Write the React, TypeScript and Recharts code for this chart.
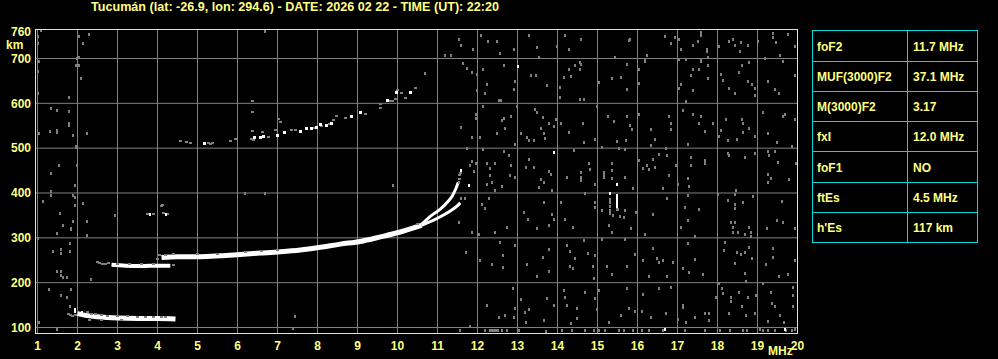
import React from "react";
import { CartesianGrid, ComposedChart, Line, Scatter, XAxis, YAxis } from "recharts";

const title = "Tucumán (lat: -26.9, lon: 294.6) - DATE: 2026 02 22 - TIME (UT): 22:20";

const freqTicks = [1, 2, 3, 4, 5, 6, 7, 8, 9, 10, 11, 12, 13, 14, 15, 16, 17, 18, 19, 20];
const heightTicks = [100, 200, 300, 400, 500, 600, 700, 760];
const gridHeights = [100, 200, 300, 400, 500, 600, 700];

const tableLabels = ["foF2", "MUF(3000)F2", "M(3000)F2", "fxI", "foF1", "ftEs", "h'Es"];
const tableValues = ["11.7 MHz", "37.1 MHz", "3.17", "12.0 MHz", "NO", "4.5 MHz", "117 km"];

// traces [MHz, km]
const esTrace = [[2.0, 131], [2.2, 127], [2.5, 124], [3.0, 121], [3.5, 120], [4.0, 120], [4.45, 119]];
const fLowTrace = [[2.85, 240], [3.2, 238], [3.6, 237], [4.0, 238], [4.32, 238]];
const fTrace = [
  [4.1, 256], [4.5, 258], [5.07, 258], [5.57, 260], [6.07, 263], [6.57, 266], [7.07, 269], [7.57, 273],
  [8.07, 279], [8.57, 286], [9.07, 292], [9.57, 302], [10.07, 313], [10.4, 322], [10.6, 328],
];
const fUpper = [[10.6, 330], [10.82, 348], [11.07, 364], [11.25, 380], [11.38, 395], [11.46, 410], [11.52, 424]];
const fLower = [[10.6, 328], [10.82, 336], [11.07, 347], [11.32, 360], [11.48, 370], [11.57, 378]];

const echoWhite = [
  [5.17, 511], [6.42, 523], [6.57, 523], [6.65, 525], [7.0, 529], [7.17, 534], [7.57, 538], [7.72, 543],
  [7.86, 544], [7.98, 547], [8.08, 553], [8.22, 551], [8.36, 556], [8.86, 571], [9.08, 579], [9.75, 606],
  [9.98, 625], [10.33, 624],
];
const echoGray = [
  [4.58, 515], [4.73, 514], [4.83, 511], [5.28, 512], [5.33, 510], [5.38, 512], [5.83, 517], [5.94, 520],
  [6.38, 606], [6.38, 581], [6.38, 538], [6.36, 521], [6.4, 519], [6.63, 536], [6.78, 525], [6.94, 540],
  [7.02, 566], [7.08, 559], [7.36, 541], [7.45, 540], [7.9, 546], [8.1, 549], [8.3, 553], [8.48, 571],
  [8.4, 562], [8.69, 568], [9.19, 577], [9.58, 598], [9.58, 590], [9.8, 605], [9.88, 606], [9.95, 609],
  [10.0, 630], [10.1, 622], [10.2, 613], [10.44, 634],
];

const traceGray = [
  [1.78, 130], [1.83, 128], [1.88, 125], [1.95, 127], [2.25, 134], [2.35, 131], [2.45, 130], [2.6, 127],
  [2.75, 126], [3.0, 125], [3.25, 125], [3.5, 124], [3.7, 124], [3.9, 124], [4.1, 124], [4.2, 124],
  [2.3, 116], [2.6, 117], [3.1, 116],
  [2.5, 246], [2.55, 244], [2.62, 242], [2.7, 241], [2.78, 243], [3.0, 242], [3.3, 241], [3.6, 241],
  [3.9, 241], [4.4, 239],
  [4.05, 262], [4.0, 252], [4.2, 262], [4.4, 263], [5.0, 264], [5.5, 265], [6.2, 268], [6.6, 271],
  [7.0, 272], [11.55, 432], [11.55, 440], [11.57, 445], [10.5, 330],
  [4.11, 372], [4.13, 374], [3.75, 353], [3.9, 353], [4.15, 355], [4.25, 353],
];

const spotsWhite = [
  [1.93, 136], [1.93, 140], [2.1, 133], [3.82, 352], [4.2, 352], [11.6, 450], [11.78, 416],
  [13.0, 682], [13.91, 491], [15.49, 418], [15.3, 398], [15.49, 394], [15.49, 388], [15.49, 382],
  [15.49, 376], [15.49, 370], [16.68, 96], [19.68, 95],
];

const noise = [
  [1.09, 762], [2.03, 749], [2.28, 753], [2.13, 734], [1.0, 749], [1.0, 734], [2.03, 703], [1.98, 699],
  [1.03, 693], [1.95, 684], [2.03, 684], [1.0, 670], [2.09, 656], [1.0, 621], [1.78, 612], [1.34, 589],
  [1.49, 585], [1.78, 581], [1.78, 554], [1.78, 550], [1.48, 539], [1.48, 536], [1.3, 537], [1.03, 532],
  [1.88, 528], [2.23, 532], [1.95, 504], [1.95, 501], [1.53, 461], [1.98, 461], [1.34, 443], [6.69, 761],
  [1.94, 416], [1.33, 403], [1.33, 394], [1.13, 381], [1.88, 394], [1.94, 390], [1.94, 372], [2.13, 377],
  [1.55, 355], [1.88, 337], [1.63, 327], [1.83, 320], [1.83, 318], [1.48, 310], [2.23, 337], [2.23, 305],
  [2.94, 350], [1.8, 288], [1.38, 270], [1.58, 273], [1.58, 266], [1.8, 270], [1.0, 298], [1.48, 226],
  [1.58, 226], [1.58, 216], [1.63, 211], [1.73, 211], [2.33, 207], [1.28, 185], [1.83, 185], [1.58, 171],
  [1.73, 168], [1.8, 147], [1.03, 112], [1.48, 95], [7.43, 125], [7.38, 98], [6.19, 398], [6.69, 398],
  [9.88, 416], [10.69, 667], [11.2, 706], [11.33, 707],
  [11.53, 743], [11.59, 730], [11.89, 721], [12.09, 752], [12.26, 738], [12.49, 737], [12.55, 712],
  [12.91, 721], [13.3, 752], [13.49, 725], [13.55, 702], [13.99, 727], [14.2, 752], [14.28, 721],
  [14.6, 743], [15.45, 702], [15.78, 741],
  [11.63, 689], [11.74, 678], [11.85, 669], [11.99, 665], [12.13, 675], [12.24, 643], [11.99, 628],
  [12.2, 621], [12.53, 606], [12.59, 606], [12.66, 684], [12.93, 648], [12.91, 630], [13.35, 661],
  [13.45, 661], [13.74, 639], [14.05, 635], [14.16, 658], [14.28, 676], [14.35, 659], [14.45, 684],
  [14.55, 691], [14.6, 687], [14.55, 676], [14.55, 608], [14.66, 608], [15.03, 647], [15.37, 655],
  [15.58, 658], [15.74, 687], [15.74, 630], [14.05, 613],
  [11.6, 545], [11.87, 523], [11.95, 576], [11.97, 566], [12.05, 523], [12.14, 593], [12.49, 532],
  [12.6, 561], [12.66, 567], [12.7, 543], [12.85, 571], [12.95, 509], [12.99, 593], [13.09, 532],
  [13.24, 524], [13.3, 517], [13.43, 586], [13.49, 580], [13.6, 544], [13.63, 569], [13.66, 532],
  [13.68, 522], [13.8, 554], [13.91, 549], [13.95, 563], [14.1, 554], [14.28, 534], [14.64, 554],
  [14.66, 513], [14.93, 519], [14.99, 593], [15.26, 571], [15.41, 559], [15.49, 515], [15.74, 571],
  [15.72, 517], [13.41, 517],
  [11.74, 500], [11.85, 470], [11.91, 448], [11.97, 465], [11.8, 461], [11.53, 424], [12.14, 497],
  [12.24, 465], [12.3, 455], [12.3, 439], [12.45, 465], [12.24, 419], [12.35, 423], [12.45, 405],
  [12.6, 415], [12.66, 492], [12.78, 483], [12.85, 461], [12.8, 439], [12.95, 435], [13.2, 457],
  [13.3, 474], [13.41, 457], [13.58, 431], [13.66, 424], [13.55, 413], [13.8, 448], [13.85, 442],
  [13.87, 405], [14.24, 435], [14.41, 494], [14.6, 445], [14.6, 435], [14.6, 428], [14.78, 465],
  [14.8, 452], [14.95, 420], [15.1, 501], [15.16, 446], [15.16, 440], [15.16, 434], [15.35, 465],
  [15.37, 450], [15.35, 433], [15.53, 500], [15.7, 435], [15.7, 498],
  [15.3, 386], [15.3, 379], [15.3, 370], [15.3, 361], [15.3, 355], [15.49, 364], [15.52, 364],
  [15.68, 361], [15.66, 346], [15.55, 348], [15.38, 350], [15.28, 327], [15.35, 311], [15.12, 361],
  [14.95, 379], [14.95, 368], [14.7, 398], [14.38, 324], [14.2, 342], [14.1, 379], [13.87, 353],
  [13.8, 327], [13.91, 342], [13.66, 379], [13.48, 321], [13.27, 342], [13.16, 356], [12.74, 324],
  [12.45, 311], [12.28, 387], [12.2, 365], [12.1, 375], [12.03, 307], [11.85, 311], [11.68, 388],
  [11.53, 335], [11.58, 388],
  [11.7, 267], [12.05, 250], [12.35, 240], [12.55, 289], [12.64, 261], [12.64, 233], [12.93, 284],
  [13.24, 240], [13.49, 213], [13.63, 257], [13.8, 274], [13.8, 224], [14.24, 284], [14.3, 269],
  [14.3, 237], [14.38, 231], [14.43, 255], [14.66, 294], [14.77, 264], [14.88, 235], [14.95, 261],
  [14.91, 210], [15.1, 296], [15.24, 235], [15.35, 218], [15.7, 296], [15.74, 237],
  [12.24, 149], [12.53, 122], [12.7, 127], [12.88, 188], [12.93, 143], [12.91, 123], [13.1, 163],
  [13.18, 133], [13.2, 111], [13.28, 140], [13.66, 116], [13.74, 164], [13.91, 148], [14.16, 183],
  [14.2, 168], [14.24, 149], [14.33, 109], [14.49, 143], [14.49, 120], [14.7, 178], [14.93, 164],
  [14.99, 140], [15.03, 183], [15.28, 111], [15.58, 126], [15.74, 188], [15.78, 142],
  [11.82, 102], [11.57, 93], [12.2, 94], [12.3, 93], [12.35, 94], [12.42, 93], [12.47, 93], [12.5, 94],
  [12.62, 94], [12.74, 93], [13.03, 94], [13.7, 92], [14.12, 94], [14.37, 94], [14.7, 93], [14.91, 94],
  [15.03, 94], [15.2, 94], [15.53, 93], [15.66, 94],
  [15.81, 742], [16.68, 750], [16.83, 734], [16.93, 746], [17.03, 742], [17.08, 721], [17.39, 730],
  [17.5, 737], [17.58, 758], [17.58, 752], [17.74, 721], [17.74, 716], [18.03, 727], [18.28, 737],
  [18.39, 743], [18.43, 730], [18.56, 715], [18.58, 736], [18.75, 728], [19.02, 739], [19.39, 756],
  [19.39, 747], [19.45, 736], [19.56, 707], [19.75, 754], [19.93, 727], [16.23, 707],
  [16.18, 697], [16.18, 693], [16.03, 675], [16.03, 644], [17.03, 697], [17.2, 697], [17.58, 698],
  [17.58, 693], [17.75, 702], [17.75, 685], [17.39, 675], [17.53, 675], [17.33, 661], [17.75, 655],
  [17.08, 641], [17.03, 632], [17.39, 628], [17.2, 604], [18.08, 665], [18.14, 652], [18.28, 632],
  [18.43, 621], [18.53, 669], [18.6, 684], [18.75, 648], [18.78, 691], [18.87, 643], [18.93, 633],
  [18.93, 617], [19.18, 700], [19.25, 648], [19.43, 630], [19.53, 623], [19.64, 693], [19.93, 661],
  [15.81, 550], [15.85, 541], [16.03, 574], [16.33, 541], [16.43, 519], [16.33, 506], [16.78, 571],
  [16.83, 554], [16.83, 541], [17.14, 583], [17.25, 509], [17.39, 576], [17.53, 554], [17.58, 571],
  [17.68, 537], [17.89, 554], [18.03, 526], [18.08, 539], [18.22, 563], [18.25, 517], [18.48, 520],
  [18.64, 554], [18.64, 534], [18.6, 563], [18.78, 544], [18.93, 526], [19.14, 580], [19.25, 532],
  [19.48, 513], [19.64, 571], [19.68, 575], [19.85, 504], [19.93, 563],
  [16.03, 472], [16.14, 455], [16.23, 461], [16.28, 452], [16.39, 474], [16.43, 457], [16.53, 485],
  [16.75, 483], [16.78, 440], [16.97, 461], [17.0, 420], [17.33, 480], [17.33, 461], [17.25, 433],
  [17.28, 414], [17.68, 472], [17.68, 465], [18.28, 483], [18.25, 487], [18.68, 480], [18.93, 487],
  [19.25, 492], [19.28, 483], [19.43, 492], [19.5, 468], [19.25, 442], [19.33, 433], [19.25, 423],
  [19.78, 430], [19.97, 465], [15.89, 411], [16.64, 409], [16.72, 500],
  [16.75, 387], [16.39, 353], [15.97, 357], [15.83, 320], [16.18, 307], [17.25, 394], [17.18, 368],
  [17.53, 363], [17.25, 339], [17.08, 324], [17.43, 304], [18.0, 396], [18.45, 405], [18.43, 396],
  [18.25, 383], [18.43, 374], [18.43, 365], [18.64, 378], [18.89, 393], [18.33, 335], [18.43, 335],
  [18.39, 324], [18.39, 313], [18.5, 313], [18.68, 307], [18.78, 324], [18.83, 313], [18.83, 302],
  [19.23, 320], [19.48, 339], [19.64, 335], [19.6, 381], [19.93, 320],
  [15.95, 262], [16.39, 276], [16.14, 250], [16.5, 255], [16.53, 244], [16.64, 250], [16.89, 244],
  [16.75, 213], [16.28, 213], [17.25, 287], [17.14, 231], [17.28, 222], [17.43, 252], [17.64, 218],
  [18.18, 289], [18.17, 272], [18.48, 267], [18.58, 262], [18.68, 267], [18.78, 279], [18.85, 253],
  [18.43, 242], [18.68, 220], [18.72, 203], [19.39, 276], [19.39, 257], [19.22, 240], [19.53, 213],
  [19.75, 218], [19.93, 250],
  [16.14, 173], [16.53, 188], [16.1, 136], [15.93, 136], [16.33, 123], [16.7, 131], [16.83, 190],
  [17.14, 148], [17.14, 144], [17.02, 118], [17.2, 112], [17.43, 123], [17.68, 131], [17.78, 131],
  [17.78, 116], [17.95, 168], [18.03, 198], [18.14, 175], [18.1, 187], [18.33, 166], [18.33, 158],
  [18.28, 131], [18.53, 179], [18.6, 146], [18.72, 126], [18.75, 168], [18.93, 131], [18.97, 172],
  [19.14, 198], [19.25, 114], [19.33, 179], [19.35, 153], [19.43, 146], [19.56, 127], [19.89, 190],
  [19.89, 172], [19.89, 146], [19.67, 111],
  [15.89, 94], [16.1, 94], [16.28, 94], [16.64, 94], [17.18, 94], [17.68, 94], [18.06, 94], [18.31, 94],
  [18.64, 94], [18.73, 94], [19.06, 96], [19.14, 94], [19.27, 94], [19.43, 94], [19.72, 94], [19.85, 94],
  [19.93, 96],
];

const pts = (a: number[][]) => a.map(([f, h]) => ({ f, h }));

const YELLOW = "#ffff00";
const TEXT = "#ffff80";
const GRAY = "#808080";
const CYAN = "#00dcdc";
const FONT = "'Liberation Sans', Arial, sans-serif";

// one ionogram cell, snapped to whole pixels
const cell = (color: string, w: number, h: number) => (props: any) =>
  props.cx == null ? (
    <g />
  ) : (
    <rect
      x={Math.round(props.cx - w / 2)}
      y={Math.round(props.cy - h / 2)}
      width={w}
      height={h}
      fill={color}
      shapeRendering="crispEdges"
    />
  );

const rowLines = [30.5, 61.5, 91.5, 121.5, 151.5, 182.5, 212.5, 242.5];

export default function App() {
  return (
    <div style={{ position: "absolute", left: 0, top: 0, width: 998, height: 359, background: "#000" }}>
      <ComposedChart width={998} height={359} margin={{ top: 29, right: 200, bottom: 0, left: 0 }}>
        <CartesianGrid stroke={GRAY} verticalValues={freqTicks} horizontalValues={gridHeights} />
        <XAxis
          dataKey="f"
          type="number"
          domain={[0.9625, 20.0125]}
          ticks={freqTicks}
          interval={0}
          allowDataOverflow
          height={26}
          tickLine={false}
          axisLine={false}
          tickSize={6}
          tick={{ fill: TEXT, fontSize: 12, fontWeight: "bold", fontFamily: FONT }}
        />
        <YAxis
          dataKey="h"
          type="number"
          domain={[87.73, 765.8]}
          ticks={heightTicks}
          interval={0}
          allowDataOverflow
          width={36}
          tickLine={false}
          axisLine={false}
          tickSize={3}
          tick={{ fill: TEXT, fontSize: 12, fontWeight: "bold", fontFamily: FONT }}
        />
        <Scatter data={pts(noise)} fill={GRAY} shape={cell(GRAY, 2, 3)} isAnimationActive={false} />
        <Scatter data={pts(traceGray)} fill={GRAY} shape={cell(GRAY, 3, 2)} isAnimationActive={false} />
        <Scatter data={pts(echoGray)} fill={GRAY} shape={cell(GRAY, 3, 2)} isAnimationActive={false} />
        <Line data={pts(esTrace)} dataKey="h" stroke="#fff" strokeWidth={5} dot={false} type="monotone" isAnimationActive={false} />
        <Line data={pts(fLowTrace)} dataKey="h" stroke="#fff" strokeWidth={4} dot={false} type="monotone" isAnimationActive={false} />
        <Line data={pts(fTrace)} dataKey="h" stroke="#fff" strokeWidth={5} dot={false} type="monotone" isAnimationActive={false} />
        <Line data={pts(fUpper)} dataKey="h" stroke="#fff" strokeWidth={3} dot={false} type="monotone" isAnimationActive={false} />
        <Line data={pts(fLower)} dataKey="h" stroke="#fff" strokeWidth={3} dot={false} type="monotone" isAnimationActive={false} />
        <Scatter data={pts(echoWhite)} fill="#fff" shape={cell("#fff", 3, 3)} isAnimationActive={false} />
        <Scatter data={pts(spotsWhite)} fill="#fff" shape={cell("#fff", 2, 3)} isAnimationActive={false} />
      </ComposedChart>
      <svg
        width={998}
        height={359}
        style={{ position: "absolute", left: 0, top: 0, pointerEvents: "none" }}
        fontFamily={FONT}
        fontWeight="bold"
        fontSize={12}
      >
        <rect x={35.5} y={29.5} width={762} height={304} fill="none" stroke={YELLOW} />
        <text x={91} y={11} fill={TEXT} fontSize={12.5} textLength={408} lengthAdjust="spacingAndGlyphs">
          {title}
        </text>
        <text x={6} y={49} fill={TEXT}>km</text>
        <text x={768} y={355} fill={TEXT}>MHz</text>
        <rect x={812.5} y={30.5} width={165} height={212} fill="none" stroke={CYAN} />
        <line x1={907.5} y1={30.5} x2={907.5} y2={242.5} stroke={CYAN} />
        {rowLines.slice(1, -1).map((y) => (
          <line key={y} x1={812.5} y1={y} x2={977.5} y2={y} stroke={CYAN} />
        ))}
        {tableLabels.map((lab, i) => {
          const cy = (rowLines[i] + rowLines[i + 1]) / 2;
          return (
            <g key={lab}>
              <text x={817} y={cy + 4.5} fill={TEXT}>{lab}</text>
              <text x={913} y={cy + 4.5} fill={TEXT}>{tableValues[i]}</text>
            </g>
          );
        })}
      </svg>
    </div>
  );
}
